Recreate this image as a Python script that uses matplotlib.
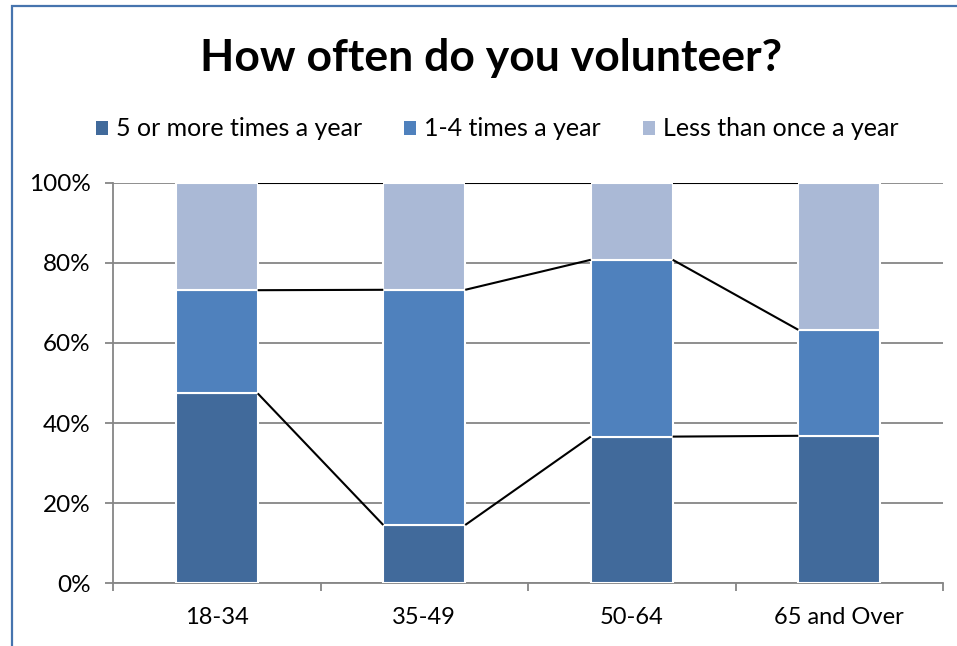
import matplotlib
matplotlib.use("Agg")
import matplotlib.pyplot as plt
from matplotlib.patches import Rectangle, Patch
import numpy as np

categories = ["18-34", "35-49", "50-64", "65 and Over"]
series_names = ["5 or more times a year", "1-4 times a year", "Less than once a year"]
five_plus = [47.4, 14.5, 36.6, 36.8]
one_to_four = [25.8, 58.8, 44.2, 26.5]
less_than_once = [26.8, 26.7, 19.2, 36.7]
y_ticks = [0, 20, 40, 60, 80, 100]
y_tick_labels = ["0%", "20%", "40%", "60%", "80%", "100%"]
title = "How often do you volunteer?"

colors = ["#416A9B", "#4F81BD", "#AAB9D6"]
grid_c = "#868686"

plt.rcParams['font.family'] = ['Lato', 'DejaVu Sans']

W, H = 957, 646
fig = plt.figure(figsize=(W / 100, H / 100), dpi=100)

# outer frame (cropped on right/bottom)
fig.patches.append(Rectangle((12 / W, -0.1), 2.0, 1 - 6 / H + 0.1, transform=fig.transFigure,
                             fill=False, edgecolor="#4674AE", linewidth=1.6, zorder=0))

ax = fig.add_axes([113 / W, 1 - 583 / H, (943 - 113) / W, (583 - 183) / H])
x = np.arange(len(categories))
width = 0.395
data = [five_plus, one_to_four, less_than_once]
bottom = np.zeros(len(categories))
tops = []
for vals, c, name in zip(data, colors, series_names):
    vals = np.array(vals, dtype=float)
    ax.bar(x, vals, width, bottom=bottom, color=c, edgecolor="white", linewidth=1.5,
           label=name, zorder=3)
    bottom = bottom + vals
    tops.append(bottom.copy())

# series lines
for t in tops:
    for i in range(len(categories) - 1):
        ax.plot([x[i] + width / 2, x[i + 1] - width / 2], [t[i], t[i + 1]],
                color="black", linewidth=1.5, zorder=4, solid_capstyle="butt")

ax.set_xlim(-0.5, len(categories) - 0.5)
ax.set_ylim(0, 100)
ax.set_yticks(y_ticks)
ax.set_yticklabels(y_tick_labels)
ax.yaxis.grid(True, color=grid_c, linewidth=1.3, zorder=1)
ax.set_axisbelow(True)
ax.set_xticks(x)
ax.set_xticklabels(categories)
ax.set_xticks(np.arange(-0.5, len(categories)), minor=True)
ax.tick_params(axis='x', which='major', length=0, pad=17, labelsize=17)
ax.tick_params(axis='x', which='minor', length=6, width=1.3, color=grid_c, direction='out')
ax.tick_params(axis='y', length=6, width=1.3, color=grid_c, pad=10, labelsize=17.5)
for s in ["top", "right"]:
    ax.spines[s].set_visible(False)
for s in ["left", "bottom"]:
    ax.spines[s].set_color(grid_c)
    ax.spines[s].set_linewidth(1.3)

fig.text(491 / W, 1 - 58 / H, title, ha="center", va="center", fontsize=32, fontweight="bold")

handles = [Patch(facecolor=c, edgecolor="none") for c in colors]
fig.legend(handles, series_names, loc="center", bbox_to_anchor=(497 / W, 1 - 129 / H),
           ncol=3, frameon=False, fontsize=18, handlelength=0.48, handleheight=0.48,
           handletextpad=0.33, columnspacing=1.68)

fig.savefig("out.png", dpi=100)
